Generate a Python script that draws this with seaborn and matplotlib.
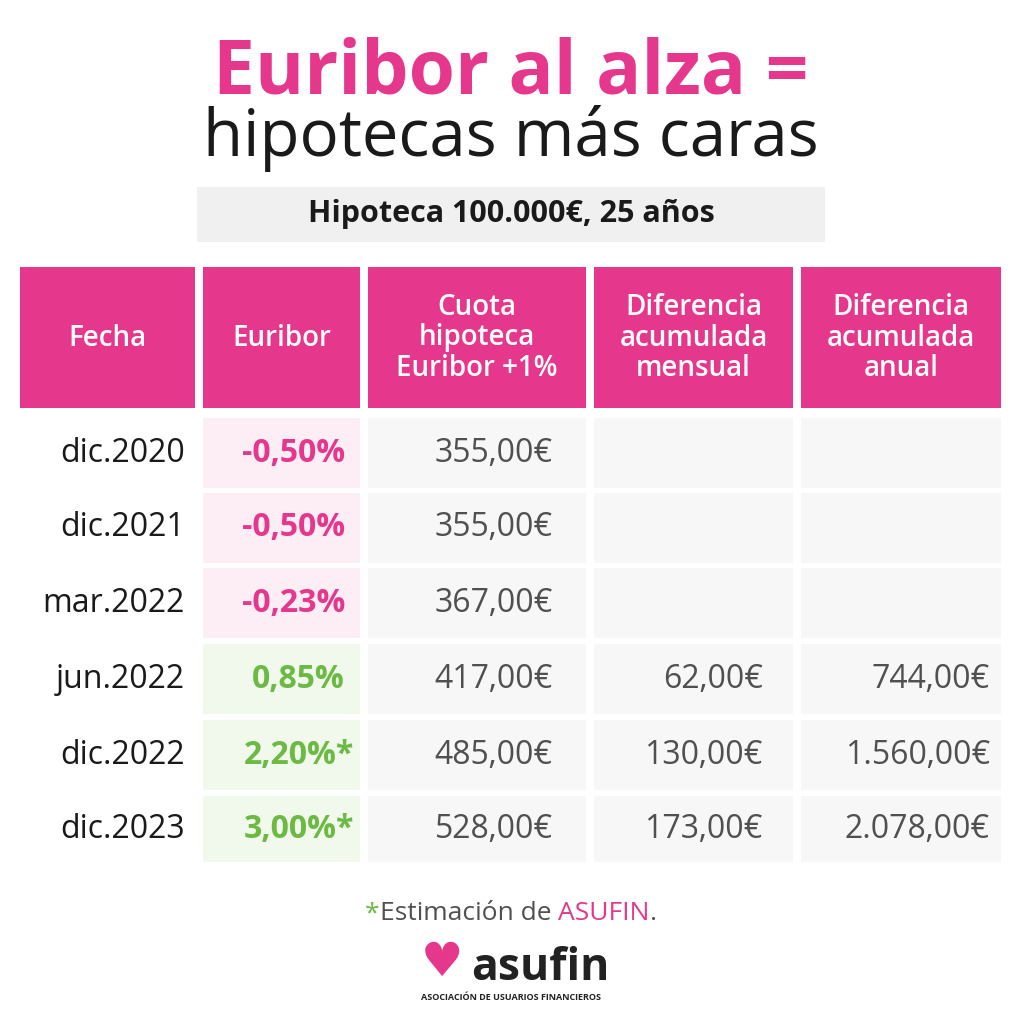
import matplotlib
matplotlib.use("Agg")
import matplotlib.pyplot as plt
import seaborn as sns
from matplotlib.patches import Rectangle

sns.set_theme(style="white", font="Open Sans")

PINK = "#e5378b"
GREEN = "#6cb944"
GREY_TXT = "#505050"

# datos
headers = ["Fecha", "Euribor", "Cuota\nhipoteca\nEuribor +1%", "Diferencia\nacumulada\nmensual", "Diferencia\nacumulada\nanual"]
fechas = ["dic.2020", "dic.2021", "mar.2022", "jun.2022", "dic.2022", "dic.2023"]
euribor = [-0.50, -0.50, -0.23, 0.85, 2.20, 3.00]
estimado = [False, False, False, False, True, True]
cuota = ["355,00€", "355,00€", "367,00€", "417,00€", "485,00€", "528,00€"]
dif_mensual = ["", "", "", "62,00€", "130,00€", "173,00€"]
dif_anual = ["", "", "", "744,00€", "1.560,00€", "2.078,00€"]

col_x = [(20, 195), (203, 360), (368, 586), (594, 793), (801, 1001)]
row_y = [(418, 488), (493, 563), (568, 638), (644, 714), (720, 790), (796, 862)]

fig = plt.figure(figsize=(10.22, 10.24), dpi=100)
ax = fig.add_axes([0, 0, 1, 1])
ax.set_xlim(0, 1022)
ax.set_ylim(1024, 0)
ax.axis("off")

ax.text(511, 74, "Euribor al alza =", ha="center", va="center", fontsize=54,
        fontweight="bold", color=PINK)
ax.text(511, 139, "hipotecas más caras", ha="center", va="center", fontsize=47, color="#1a1a1a")
ax.add_patch(Rectangle((197, 187), 628, 55, color="#f0f0f0", lw=0))
ax.text(511, 214, "Hipoteca 100.000€, 25 años", ha="center", va="center", fontsize=22,
        fontweight="bold", color="#1a1a1a")

for (x0, x1), h in zip(col_x, headers):
    ax.add_patch(Rectangle((x0, 267), x1 - x0, 141, color=PINK, lw=0))
    ax.text((x0 + x1) / 2, 338, h, ha="center", va="center", fontsize=20,
            fontweight="semibold", color="white", linespacing=1.05)

for i, (y0, y1) in enumerate(row_y):
    yc = (y0 + y1) / 2
    ax.text(185, yc, fechas[i], ha="right", va="center", fontsize=23, color="#1a1a1a")
    neg = euribor[i] < 0
    ax.add_patch(Rectangle((col_x[1][0], y0), col_x[1][1] - col_x[1][0], y1 - y0,
                           color="#fdeef5" if neg else "#f1f8ec", lw=0))
    lab = f"{euribor[i]:.2f}%".replace(".", ",") + ("*" if estimado[i] else "")
    ax.text(345 if not estimado[i] else 354, yc, lab, ha="right", va="center", fontsize=23,
            fontweight="bold", color=PINK if neg else GREEN)
    for (x0, x1), vals, xr in zip(col_x[2:], [cuota, dif_mensual, dif_anual], [553, 763, 990]):
        ax.add_patch(Rectangle((x0, y0), x1 - x0, y1 - y0, color="#f7f7f7", lw=0))
        ax.text(xr, yc, vals[i], ha="right", va="center", fontsize=23, color=GREY_TXT)

# pie de texto con colores encadenados
renderer = fig.canvas.get_renderer()
parts = [("*", GREEN), ("Estimación de ", GREY_TXT), ("ASUFIN", PINK), (".", GREY_TXT)]
texts = [ax.text(0, 914, s, ha="left", va="center", fontsize=19, color=c) for s, c in parts]
widths = [t.get_window_extent(renderer).width for t in texts]
x = 511 - sum(widths) / 2
for t, w in zip(texts, widths):
    t.set_x(x)
    x += w

ax.text(442, 964, "♥", ha="center", va="center", fontsize=34, color=PINK, family="DejaVu Sans")
ax.text(540, 968, "asufin", ha="center", va="center", fontsize=32, fontweight="bold", color="#222222")
ax.text(511, 998, "ASOCIACIÓN DE USUARIOS FINANCIEROS", ha="center", va="center",
        fontsize=6.5, fontweight="bold", color="#222222")

fig.savefig("out.png", dpi=100, facecolor="white")
